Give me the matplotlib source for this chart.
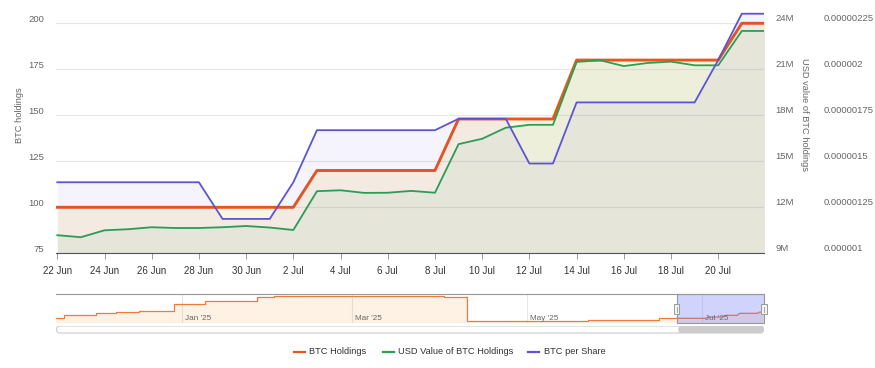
import matplotlib
matplotlib.use("Agg")
import matplotlib.pyplot as plt
import matplotlib.dates as mdates
import matplotlib.transforms as mtransforms
from matplotlib.lines import Line2D
from matplotlib.patches import FancyBboxPatch, Rectangle
import pandas as pd

plt.rcParams['font.family'] = ['Liberation Sans', 'DejaVu Sans']

# daily values, 22 Jun - 22 Jul 2025
dates = pd.date_range('2025-06-22', '2025-07-22', freq='D')
btc_holdings = [100, 100, 100, 100, 100, 100, 100, 100, 100, 100, 100,
                120, 120, 120, 120, 120, 120,
                148, 148, 148, 148, 148,
                180, 180, 180, 180, 180, 180, 180,
                200, 200]
usd_value_m = [10.18, 10.05, 10.50, 10.57, 10.70, 10.65, 10.65, 10.70, 10.78,
               10.68, 10.52, 13.05, 13.11, 12.94, 12.95, 13.07, 12.95, 16.12,
               16.47, 17.19, 17.38, 17.38, 21.48, 21.59, 21.21, 21.41, 21.50,
               21.26, 21.26, 23.50, 23.50]
btc_per_share = [1.386e-6, 1.386e-6, 1.386e-6, 1.386e-6, 1.386e-6, 1.386e-6,
                 1.386e-6, 1.187e-6, 1.187e-6, 1.187e-6, 1.386e-6, 1.669e-6,
                 1.669e-6, 1.669e-6, 1.669e-6, 1.669e-6, 1.669e-6, 1.731e-6,
                 1.731e-6, 1.731e-6, 1.488e-6, 1.488e-6, 1.820e-6, 1.820e-6,
                 1.820e-6, 1.820e-6, 1.820e-6, 1.820e-6, 2.050e-6, 2.302e-6,
                 2.302e-6]

# axis ticks
x_tick_dates = pd.date_range('2025-06-22', '2025-07-20', freq='2D')
left_ticks = [75, 100, 125, 150, 175, 200]
usd_ticks = [9, 12, 15, 18, 21, 24]
usd_labels = ['9M', '12M', '15M', '18M', '21M', '24M']
share_ticks = [1e-6, 1.25e-6, 1.5e-6, 1.75e-6, 2e-6, 2.25e-6]
share_labels = ['0.000001', '0.00000125', '0.0000015', '0.00000175',
                '0.000002', '0.00000225']

# navigator: BTC holdings history before the selected range
nav_dates = ['2024-11-18', '2024-11-21', '2024-12-02', '2024-12-09',
             '2024-12-17', '2024-12-29', '2025-01-09', '2025-01-27',
             '2025-02-02', '2025-04-02', '2025-04-10', '2025-05-01',
             '2025-05-22', '2025-06-16']
nav_values = [105, 158, 180, 201, 217, 334, 382, 436, 462, 441, 62, 55, 78, 100]
nav_months = ['2025-01-01', '2025-03-01', '2025-05-01', '2025-07-01']
nav_month_labels = ["Jan '25", "Mar '25", "May '25", "Jul '25"]

legend_items = ['BTC Holdings', 'USD Value of BTC Holdings', 'BTC per Share']

ORANGE, GREEN, BLUE = '#e9561d', '#27a24f', '#5b55d4'
W, H = 875, 368


def rect(x0, y0, x1, y1):
    "pixel box (top-left origin) -> figure fraction rect"
    return [x0 / W, 1 - y1 / H, (x1 - x0) / W, (y1 - y0) / H]


fig = plt.figure(figsize=(W / 100, H / 100), dpi=100)


def off(dx, dy):
    return mtransforms.ScaledTranslation(dx / 100, dy / 100, fig.dpi_scale_trans)


x = mdates.date2num(dates.to_pydatetime())

# ---- main chart with three y scales ----
ax = fig.add_axes(rect(56, 0, 764, 253.3))
ax_usd = ax.twinx()
ax_share = ax.twinx()
k = 1.1013  # axis top relative to the 75..200 tick span
ax.set_ylim(75, 75 + 125 * k)
ax_usd.set_ylim(9, 9 + 15 * k)
ax_share.set_ylim(1e-6, 1e-6 + 1.25e-6 * k)
ax.set_xlim(x[0] - 0.055, x[0] + 29.94)

ax.fill_between(x, btc_holdings, 75, color='#f0b020', alpha=0.12, lw=0)
ax.plot(x, btc_holdings, color=ORANGE, lw=2.1)
ax_usd.fill_between(x, usd_value_m, 9, color='#6fbe9c', alpha=0.10, lw=0)
ax_usd.plot(x, usd_value_m, color=GREEN, lw=1.3)
ax_share.fill_between(x, btc_per_share, 1e-6, color='#5848cd', alpha=0.06, lw=0)
ax_share.plot(x, btc_per_share, color=BLUE, lw=1.3)

for a in (ax, ax_usd, ax_share):
    for s in a.spines.values():
        s.set_visible(False)
ax.spines['bottom'].set_visible(True)
ax.spines['bottom'].set_color('#4d4d4d')
ax.spines['bottom'].set_linewidth(0.8)

ax.set_xticks(mdates.date2num(x_tick_dates.to_pydatetime()))
ax.set_xticklabels([f'{d.day} {d:%b}' for d in x_tick_dates])
ax.tick_params(axis='x', length=4.3, width=0.7, color='#999999', pad=5,
               labelsize=7, labelcolor='#333333')
ax.set_yticks(left_ticks)
ax.tick_params(axis='y', length=0, labelleft=False)
ax.grid(axis='y', color='#e6e6e6', lw=0.8)
ax.set_axisbelow(True)
ax_usd.set_yticks([])
ax_share.set_yticks([])

for v in left_ticks:
    ax.text(0, v, str(v), transform=ax.get_yaxis_transform() + off(-11.7, 4),
            ha='right', va='center', fontsize=6.8, color='#666666')
for v, lab in zip(usd_ticks, usd_labels):
    ax_usd.text(1, v, lab, transform=ax_usd.get_yaxis_transform() + off(11.3, 4.5),
                ha='left', va='center', fontsize=6.8, color='#666666')
for v, lab in zip(share_ticks, share_labels):
    ax_share.text(1, v, lab, transform=ax_share.get_yaxis_transform() + off(59.3, 4.5),
                  ha='left', va='center', fontsize=6.8, color='#666666')

fig.text(20 / W, 1 - 115 / H, 'BTC holdings', rotation=90, ha='center',
         va='center', fontsize=6.7, color='#666666')
fig.text(804 / W, 1 - 115 / H, 'USD value of BTC holdings', rotation=270,
         ha='center', va='center', fontsize=6.7, color='#666666')

# ---- navigator ----
nav = fig.add_axes(rect(56, 293.5, 764, 322.7))
jan1 = mdates.date2num(pd.Timestamp('2025-01-01').to_pydatetime())
nx0, nx1 = jan1 - 43.95, jan1 + 202.4
nav.set_xlim(nx0, nx1)
nav.set_ylim(30, 497)
hx = list(mdates.date2num(pd.to_datetime(nav_dates).to_pydatetime())) + [x[0]]
hv = nav_values + [nav_values[-1]]
nav.fill_between(hx, hv, 30, step='post', color='#f5a033', alpha=0.13, lw=0)
nav.plot(hx, hv, drawstyle='steps-post', color='#ef7a3c', lw=0.9)
nav.fill_between(x, btc_holdings, 30, color='#f5a033', alpha=0.13, lw=0)
nav.plot(x, btc_holdings, color='#ef7a3c', lw=0.9)

blend = mtransforms.blended_transform_factory(nav.transData, nav.transAxes)
for m, lab in zip(nav_months, nav_month_labels):
    mx = mdates.date2num(pd.Timestamp(m).to_pydatetime())
    nav.axvline(mx, color='#e6e6e6', lw=0.8, zorder=0)
    nav.text(mx, 0.16, lab, transform=blend + off(3, 0), ha='left',
             va='center', fontsize=5.9, color='#666666')

nav.axvspan(x[0], nx1, facecolor=(0.4, 0.44, 0.95, 0.3),
            edgecolor='#999999', lw=0.8, clip_on=False, zorder=3)
for hxp in (x[0], nx1):
    nav.add_patch(Rectangle((hxp - 0.9, 0.29), 1.8, 0.34, transform=blend,
                            fc='#f2f2f2', ec='#999999', lw=0.7,
                            clip_on=False, zorder=5))
    nav.plot([hxp, hxp], [0.37, 0.55], transform=blend, color='#999999',
             lw=0.6, clip_on=False, zorder=6)

for s in nav.spines.values():
    s.set_visible(False)
nav.spines['top'].set_visible(True)
nav.spines['top'].set_color('#999999')
nav.spines['top'].set_linewidth(0.8)
nav.set_xticks([])
nav.set_yticks([])

# ---- scrollbar ----
sc = fig.add_axes(rect(56, 325.5, 764, 333.5))
sc.set_xlim(0, 708)
sc.set_ylim(0, 8)
sc.axis('off')
sc.add_patch(FancyBboxPatch((0.5, 0.5), 707, 7,
                            boxstyle='round,pad=0,rounding_size=3.5',
                            fc='white', ec='#cccccc', lw=0.8))
thumb = (x[0] - nx0) / (nx1 - nx0) * 708
sc.add_patch(FancyBboxPatch((thumb + 1.5, 0.5), 708 - thumb - 2, 7,
                            boxstyle='round,pad=0,rounding_size=3.5',
                            fc='#cccccc', ec='none'))

# ---- legend ----
for lx, lab, col in zip([293.5, 382.6, 528], legend_items, [ORANGE, GREEN, BLUE]):
    fig.add_artist(Line2D([lx / W, (lx + 11) / W], [1 - 352 / H] * 2,
                          transform=fig.transFigure, color=col, lw=1.6))
    fig.text((lx + 15.5) / W, 1 - 352 / H, lab, ha='left', va='center',
             fontsize=6.7, color='#333333')

fig.savefig('out.png', dpi=100)
